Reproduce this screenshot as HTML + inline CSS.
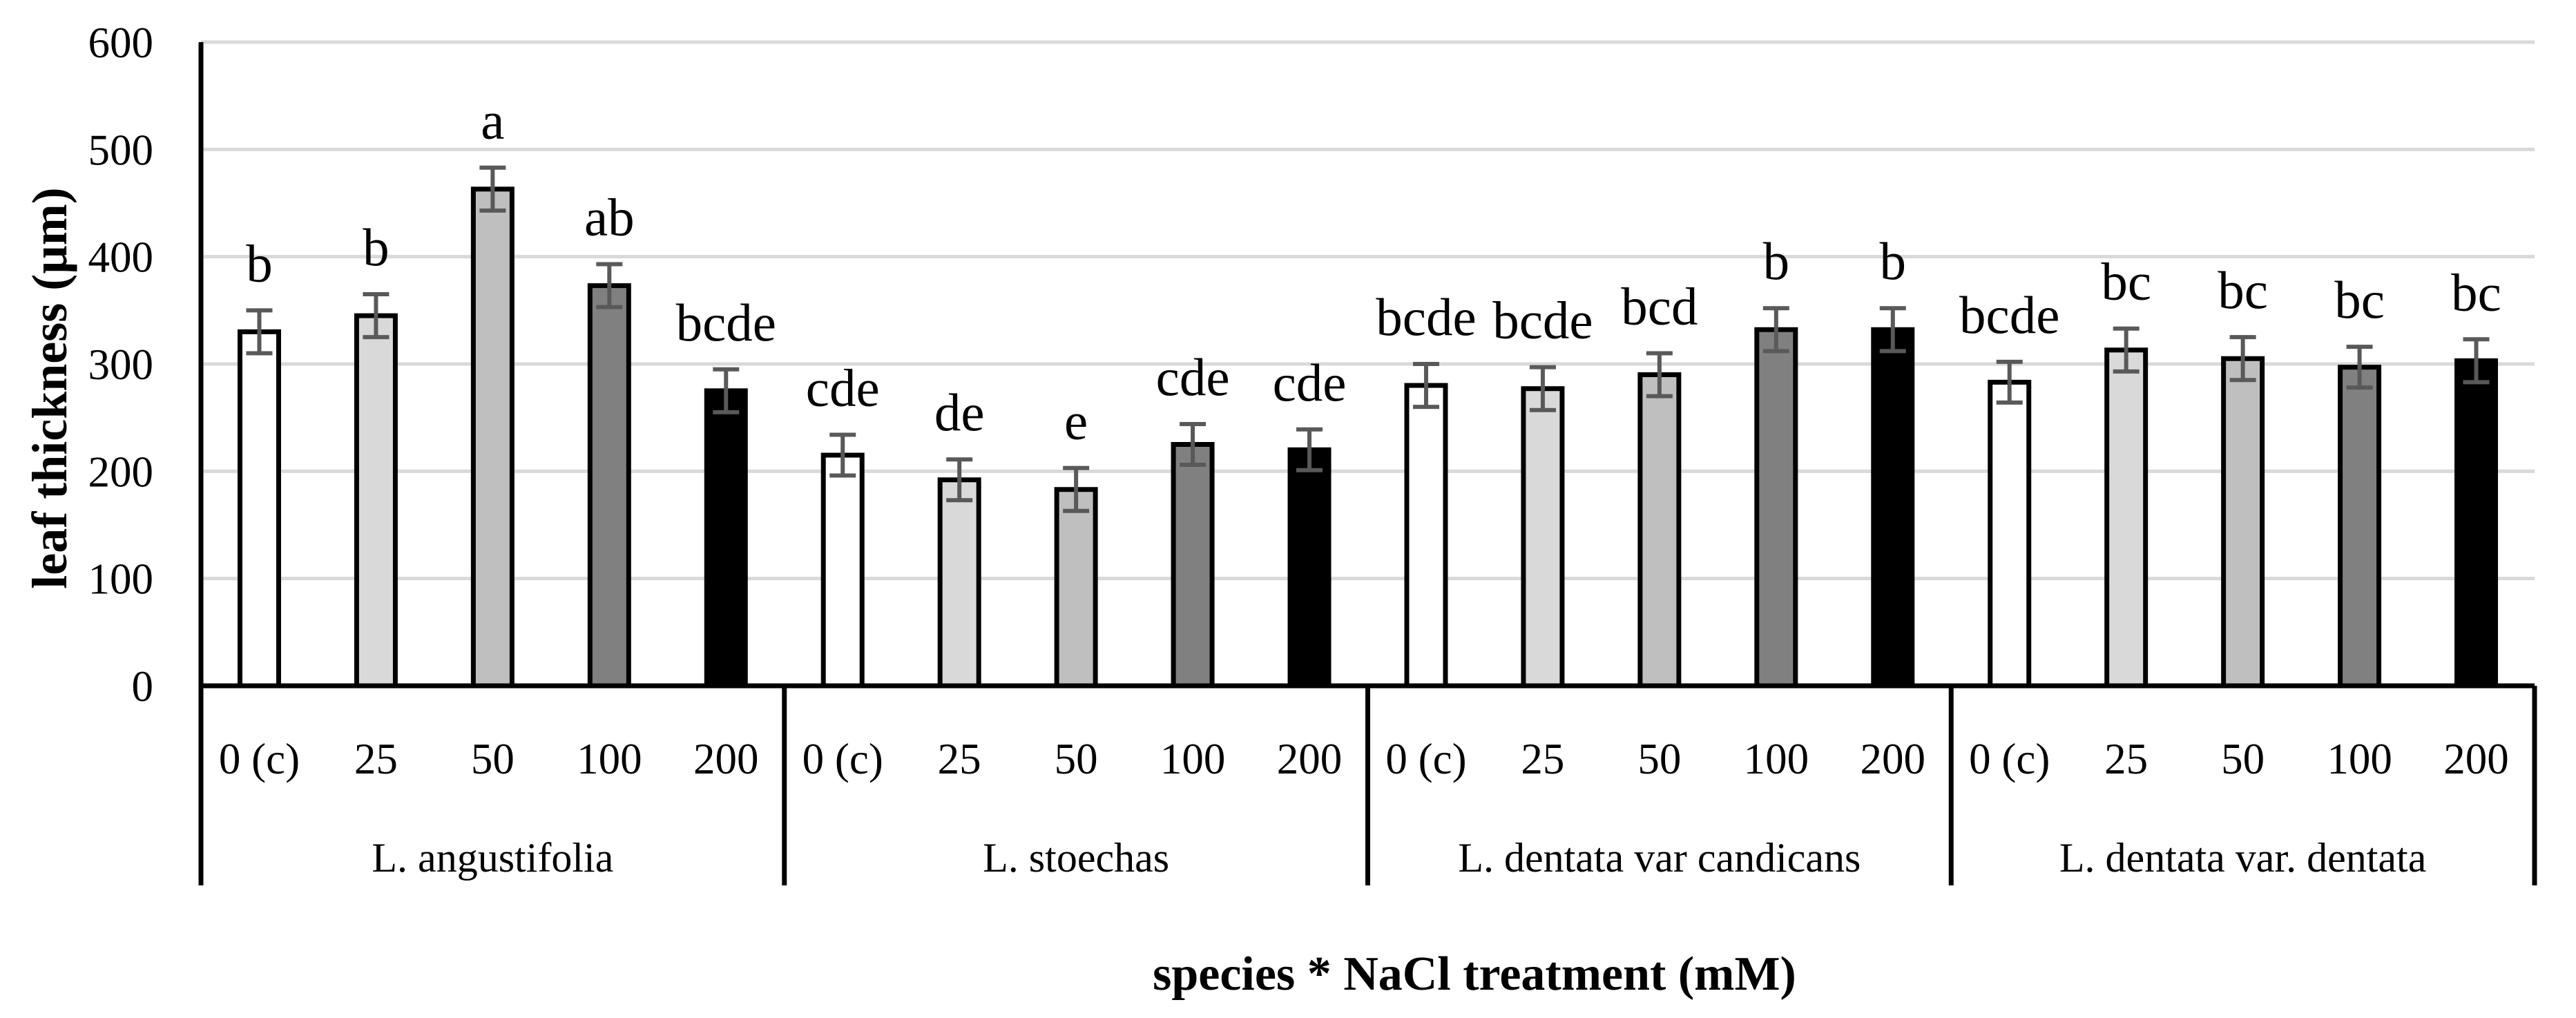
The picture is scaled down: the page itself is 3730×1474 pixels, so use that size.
<!DOCTYPE html>
<html><head><meta charset="utf-8"><style>
html,body{margin:0;padding:0;background:#fff}
svg{display:block}
text{font-family:"Liberation Serif",serif;fill:#000}
</style></head><body>
<svg id="chart" width="3730" height="1474" viewBox="0 0 3730 1474" xmlns="http://www.w3.org/2000/svg">
<g id="grid"></g>
<g id="yticks"></g>
<g id="bars"></g>
<g id="xaxis"></g>
<text x="0" y="0" transform="translate(96,562) rotate(-90)" text-anchor="middle" font-size="72" font-weight="bold">leaf thickness (µm)</text>
<text x="2135" y="1433" text-anchor="middle" font-size="70" font-weight="bold">species * NaCl treatment (mM)</text>
</svg>
<script>
const groups = ["L. angustifolia","L. stoechas","L. dentata var candicans","L. dentata var. dentata"];
const treatments = ["0 (c)","25","50","100","200"];
const values = [330,345,463,373,275, 215,192,183,225,220, 280,277,290,332,332, 283,313,305,297,303];
const errors = [20,20,20,20,20, 19,19,20,19,19, 20,20,20,20,20, 19,20,20,19,20];
const letters = ["b","b","a","ab","bcde", "cde","de","e","cde","cde", "bcde","bcde","bcd","b","b", "bcde","bc","bc","bc","bc"];
const yTicks = [0,100,200,300,400,500,600];
const fills = ["#ffffff","#d9d9d9","#bfbfbf","#808080","#000000"];

const NS="http://www.w3.org/2000/svg";
const X0=291, X1=3670, Y0=993, Y600=61;
const y = v => Y0 - (v/600)*(Y0-Y600);
const slot = (X1-X0)/values.length;
const xc = i => X0 + slot*(i+0.5);
function mk(tag, attrs, parent){const e=document.createElementNS(NS,tag);for(const k in attrs)e.setAttribute(k,attrs[k]);parent.appendChild(e);return e;}

const grid=document.getElementById('grid'), yt=document.getElementById('yticks');
yTicks.forEach(t=>{
  if(t>0){const l=mk('line',{x1:X0,x2:X1,y1:y(t),y2:y(t),stroke:'#d9d9d9','stroke-width':5},grid);
  
  }
  const tx=mk('text',{x:222,y:y(t)+22,'text-anchor':'end','font-size':63},yt);
  tx.textContent=t;
  
  
});

const bars=document.getElementById('bars');
values.forEach((v,i)=>{
  const w=56, cx=xc(i);
  const r=mk('rect',{x:cx-w/2,y:y(v),width:w,height:Y0-y(v),fill:fills[i%5],stroke:'#000','stroke-width':7},bars);
  
  
  const e=errors[i], g=mk('g',{stroke:'#595959','stroke-width':6},bars);
  
  
  mk('line',{x1:cx,x2:cx,y1:y(v+e),y2:y(v-e)},g);
  mk('line',{x1:cx-19,x2:cx+19,y1:y(v+e),y2:y(v+e)},g);
  mk('line',{x1:cx-19,x2:cx+19,y1:y(v-e),y2:y(v-e)},g);
  const t=mk('text',{x:cx,y:y(v+e)-42,'text-anchor':'middle','font-size':77},bars);
  t.textContent=letters[i];
  
  
});

const xa=document.getElementById('xaxis');
mk('line',{x1:X0,x2:X1,y1:Y0,y2:Y0,stroke:'#000','stroke-width':7},xa);
mk('line',{x1:X0,x2:X0,y1:y(600),y2:1282,stroke:'#000','stroke-width':7},xa);
const gw=(X1-X0)/groups.length;
groups.forEach((gname,gi)=>{
  const sx=X0+gw*(gi+1);
  const sep=mk('line',{x1:sx,x2:sx,y1:Y0,y2:1282,stroke:'#000','stroke-width':7},xa);
  
  
  const gl=mk('text',{x:X0+gw*(gi+0.5),y:1262,'text-anchor':'middle','font-size':60},xa);
  gl.textContent=gname;
  
  
  treatments.forEach((tr,ti)=>{
    const t=mk('text',{x:xc(gi*5+ti),y:1120,'text-anchor':'middle','font-size':63},xa);
    t.textContent=tr;
    
    
  });
});
</script>
</body></html>
